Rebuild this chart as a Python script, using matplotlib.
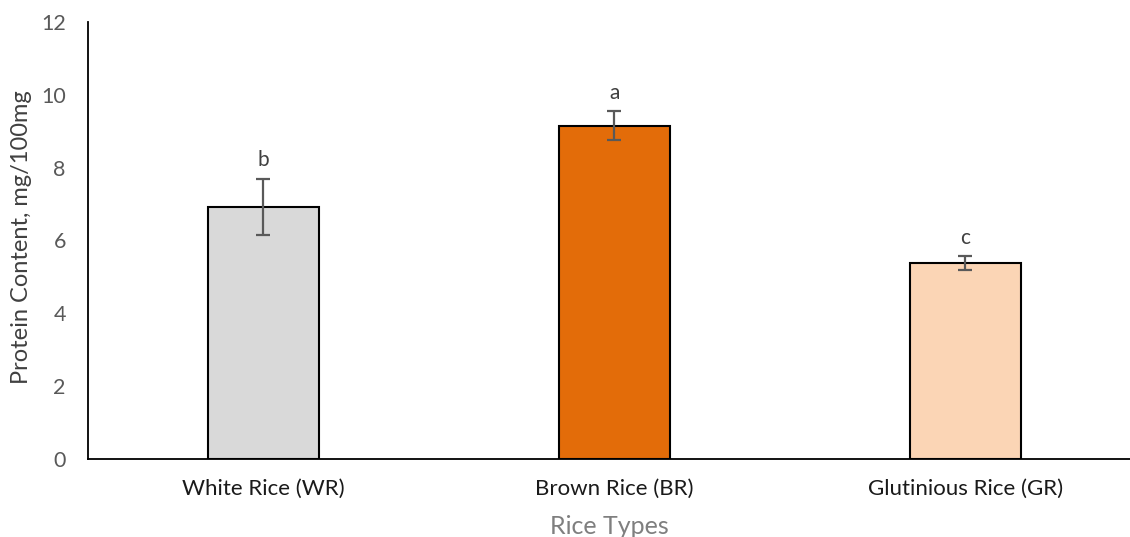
import matplotlib
matplotlib.use("Agg")
import matplotlib.pyplot as plt
import numpy as np

plt.rcParams['font.family'] = ['Lato', 'DejaVu Sans']

categories = ['White Rice (WR)', 'Brown Rice (BR)', 'Glutinious Rice (GR)']
protein = [6.93, 9.15, 5.38]
errors = [0.77, 0.40, 0.19]
letters = ['b', 'a', 'c']
colors = ['#D9D9D9', '#E36C09', '#FBD5B5']

fig = plt.figure(figsize=(11.3, 5.37), dpi=100)
ax = fig.add_axes([88 / 1130, 78 / 537, 1 - 88 / 1130, 437 / 537])

x = np.arange(len(categories))
ax.bar(x, protein, width=0.315, color=colors, edgecolor='black', linewidth=1.5, zorder=2)
ax.errorbar(x, protein, yerr=errors, fmt='none', ecolor='#595959',
            elinewidth=1.6, capsize=5, capthick=1.6, zorder=3)

for xi, v, e, lab in zip(x, protein, errors, letters):
    ax.annotate(lab, (xi, v + e), xytext=(0, 6), textcoords='offset points',
                ha='center', va='bottom', fontsize=15, color='#404040')

ax.set_xlim(-0.5, 2.469)
ax.set_ylim(0, 12)
ax.set_yticks(range(0, 13, 2))
ax.set_xticks(x)
ax.set_xticklabels(categories, fontsize=16, color='#1a1a1a')
ax.tick_params(axis='y', length=0, labelsize=15.5, labelcolor='#595959', pad=16)
ax.tick_params(axis='x', length=0, pad=14)

ax.set_ylabel('Protein Content, mg/100mg', fontsize=17, color='#404040')
ax.yaxis.set_label_coords(-0.054, 0.508)
ax.set_xlabel('Rice Types', fontsize=18, color='#7f7f7f', labelpad=12)

for s in ['top', 'right']:
    ax.spines[s].set_visible(False)
ax.spines['left'].set_linewidth(1.3)
ax.spines['bottom'].set_linewidth(1.3)

fig.savefig('out.png', dpi=100)
